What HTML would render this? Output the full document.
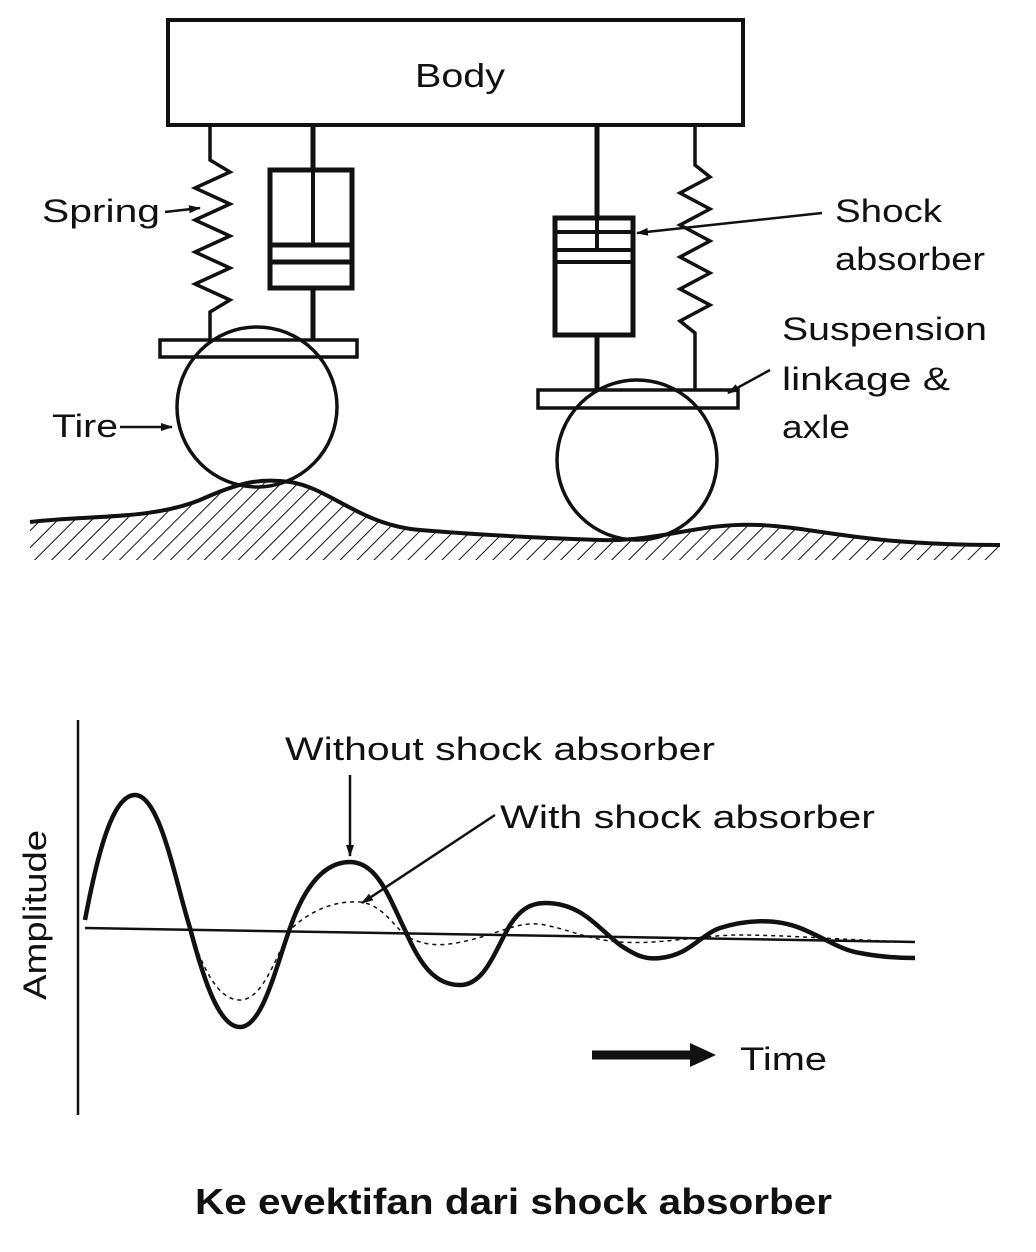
<!DOCTYPE html>
<html><head><meta charset="utf-8"><style>
html,body{margin:0;padding:0;background:#fff;}
svg{display:block;}
text{font-family:"Liberation Sans",sans-serif;fill:#111;}
</style></head><body>
<svg width="1036" height="1252" viewBox="0 0 1036 1252" xmlns="http://www.w3.org/2000/svg">
<defs>
<pattern id="h" width="12" height="12" patternUnits="userSpaceOnUse" patternTransform="rotate(45)">
<line x1="0" y1="0" x2="0" y2="12" stroke="#111" stroke-width="2"/>
</pattern>
<marker id="a" markerWidth="12" markerHeight="10" refX="11" refY="5" orient="auto" markerUnits="userSpaceOnUse">
<path d="M0,1 L12,5 L0,9 z" fill="#111"/>
</marker>
</defs>
<g stroke="#111" fill="none" stroke-width="3.5">
<rect x="168" y="20" width="575" height="105" stroke-width="4"/>
<polyline points="210,125 210,160 230,172 195,188 230,204 195,220 230,236 195,252 230,268 195,284 230,300 210,312 210,340"/>
<line x1="313" y1="125" x2="313" y2="170" stroke-width="5"/>
<rect x="270" y="170" width="82" height="118" stroke-width="5"/>
<line x1="313" y1="170" x2="313" y2="245" stroke-width="4"/>
<rect x="270" y="245" width="82" height="17" stroke-width="5"/>
<line x1="313" y1="288" x2="313" y2="340" stroke-width="5"/>
<rect x="160" y="340" width="197" height="17"/>
<circle cx="257" cy="407" r="80"/>
<line x1="597" y1="125" x2="597" y2="218" stroke-width="5"/>
<rect x="555" y="218" width="78" height="117" stroke-width="5"/>
<rect x="555" y="232" width="78" height="18" stroke-width="4"/>
<line x1="597" y1="218" x2="597" y2="250" stroke-width="4"/>
<line x1="555" y1="262" x2="633" y2="262" stroke-width="4"/>
<line x1="597" y1="335" x2="597" y2="390" stroke-width="5"/>
<polyline points="695,125 695,165 710,177 680,193 710,209 680,225 710,241 680,257 710,273 680,289 710,305 680,321 695,333 695,390"/>
<rect x="538" y="390" width="200" height="18"/>
<circle cx="637" cy="460" r="80"/>
<path d="M30,522 C90,515 150,520 200,500 C240,482 260,478 290,482 C330,488 360,525 420,530 C480,535 540,538 600,540 C660,542 700,522 760,525 C820,528 860,545 1000,545 L1000,560 L30,560 Z" fill="url(#h)" stroke="none"/>
<path d="M30,522 C90,515 150,520 200,500 C240,482 260,478 290,482 C330,488 360,525 420,530 C480,535 540,538 600,540 C660,542 700,522 760,525 C820,528 860,545 1000,545" stroke-width="4"/>
<line x1="165" y1="212" x2="200" y2="208" marker-end="url(#a)" stroke-width="2.5"/>
<line x1="120" y1="427" x2="172" y2="427" marker-end="url(#a)" stroke-width="2.5"/>
<line x1="822" y1="213" x2="637" y2="233" marker-end="url(#a)" stroke-width="2.5"/>
<line x1="770" y1="370" x2="728" y2="393" marker-end="url(#a)" stroke-width="2.5"/>
<line x1="78" y1="720" x2="78" y2="1115" stroke-width="2.5"/>
<line x1="85" y1="928" x2="915" y2="942" stroke-width="2.5"/>
<path d="M85,920 C100,840 115,795 135,795 C160,795 175,880 190,928 C205,985 220,1027 240,1027 C262,1027 275,970 290,928 C305,885 325,862 350,862 C378,862 390,900 405,930 C420,965 435,985 460,985 C485,985 495,950 510,925 C520,910 530,903 545,903 C580,903 595,925 620,945 C635,955 645,960 660,958 C690,955 700,935 720,928 C745,920 775,918 800,928 C825,938 840,950 860,953 C880,957 900,958 915,958" stroke-width="4.5"/>
<path d="M190,930 C205,975 220,1000 240,1000 C262,1000 275,960 290,930 C305,915 330,900 360,902 C385,905 395,930 410,938 C430,948 450,945 470,940 C500,933 520,920 545,925 C570,930 590,940 620,942 C660,945 700,935 740,935 C790,935 840,940 915,942" stroke-width="1.5" stroke-dasharray="4,4"/>
<line x1="350" y1="775" x2="350" y2="856" marker-end="url(#a)" stroke-width="2.5"/>
<line x1="495" y1="815" x2="362" y2="903" marker-end="url(#a)" stroke-width="2.5"/>
<line x1="592" y1="1055" x2="695" y2="1055" stroke-width="9"/>
<path d="M690,1043 L716,1055 L690,1067 z" fill="#111" stroke="none"/>
</g>
<text x="415" y="87" font-size="33" textLength="90" lengthAdjust="spacingAndGlyphs">Body</text>
<text x="42" y="222" font-size="32" textLength="118" lengthAdjust="spacingAndGlyphs">Spring</text>
<text x="52" y="437" font-size="32" textLength="66" lengthAdjust="spacingAndGlyphs">Tire</text>
<text x="835" y="222" font-size="32" textLength="107" lengthAdjust="spacingAndGlyphs">Shock</text>
<text x="835" y="270" font-size="32" textLength="150" lengthAdjust="spacingAndGlyphs">absorber</text>
<text x="782" y="340" font-size="32" textLength="205" lengthAdjust="spacingAndGlyphs">Suspension</text>
<text x="782" y="390" font-size="32" textLength="168" lengthAdjust="spacingAndGlyphs">linkage &amp;</text>
<text x="782" y="438" font-size="32" textLength="68" lengthAdjust="spacingAndGlyphs">axle</text>
<text x="285" y="760" font-size="32" textLength="430" lengthAdjust="spacingAndGlyphs">Without shock absorber</text>
<text x="500" y="828" font-size="32" textLength="375" lengthAdjust="spacingAndGlyphs">With shock absorber</text>
<text x="740" y="1070" font-size="32" textLength="87" lengthAdjust="spacingAndGlyphs">Time</text>
<text transform="translate(46,1000) rotate(-90)" font-size="32" textLength="170" lengthAdjust="spacingAndGlyphs">Amplitude</text>
<text x="195" y="1214" font-size="36" font-weight="bold" textLength="637" lengthAdjust="spacingAndGlyphs">Ke evektifan dari shock absorber</text>
</svg>
</body></html>
